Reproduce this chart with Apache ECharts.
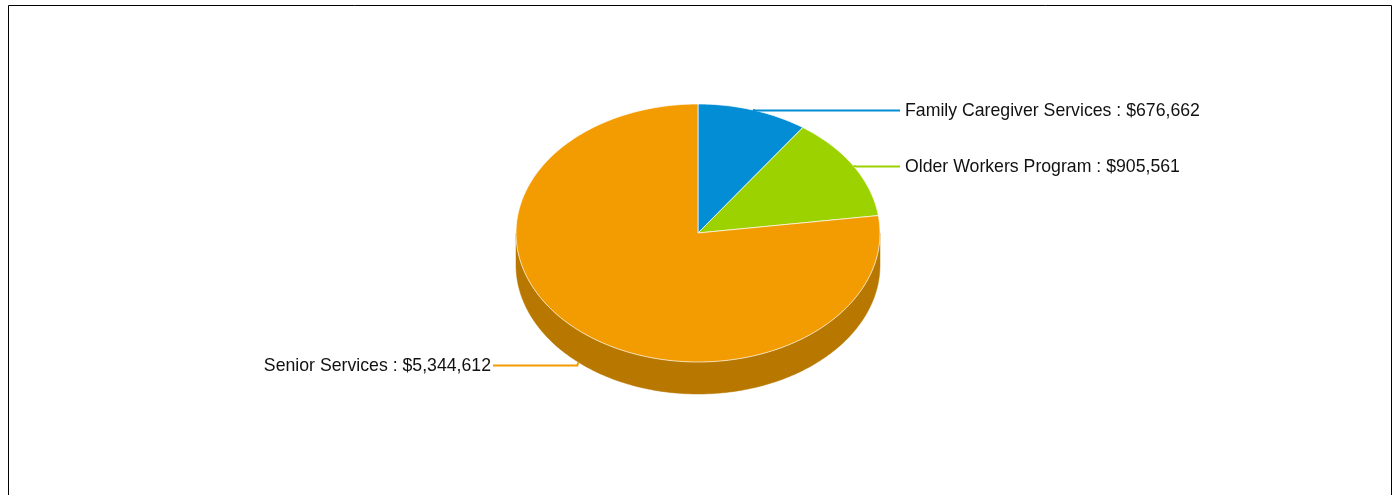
<!DOCTYPE html>
<html>
<head>
<meta charset="utf-8">
<title>Program budget</title>
<script src="https://cdn.jsdelivr.net/npm/echarts@6/dist/echarts.min.js"></script>
<style>
  html, body { margin: 0; padding: 0; background: #fff; }
  #chart { width: 1395px; height: 495px; }
</style>
</head>
<body>
<div id="chart"></div>
<script>
// data
const categories = ['Family Caregiver Services', 'Older Workers Program', 'Senior Services'];
const amounts = [676662, 905561, 5344612];
const topColors = ['#038DD4', '#9BD200', '#F39C02'];
const sideColors = ['#02649A', '#6E9600', '#B87800'];

// pie layout (a tilted "3d" pie drawn as an ellipse)
const cx = 698, cy = 233, rx = 182, ry = 129, depth = 32;
const labelGap = 5;

const total = amounts.reduce((a, b) => a + b, 0);
const starts = [];
let acc = 0;
amounts.forEach(v => { starts.push(acc / total); acc += v; });

const fmt = v => '$' + v.toLocaleString('en-US');

// angle in degrees, 0 = 12 o'clock, clockwise
function pt(deg, dy) {
  const r = deg * Math.PI / 180;
  return [cx + rx * Math.sin(r), cy - ry * Math.cos(r) + (dy || 0)];
}

function arc(a, b, dy) {
  const pts = [];
  const n = Math.max(2, Math.ceil(Math.abs(b - a)));
  for (let i = 0; i <= n; i++) pts.push(pt(a + (b - a) * i / n, dy));
  return pts;
}

function renderItem(params, api) {
  const i = params.dataIndex;
  const a = starts[i] * 360;
  const b = a + api.value(0) / total * 360;
  const children = [];

  // front side (visible between 90 and 270 degrees)
  const lo = Math.max(a, 90), hi = Math.min(b, 270);
  if (hi > lo) {
    const side = arc(lo, hi, 0).concat(arc(hi, lo, depth));
    children.push({
      type: 'polygon',
      shape: { points: side },
      style: { fill: sideColors[i], stroke: sideColors[i], lineWidth: 0.5 }
    });
  }

  // top face
  children.push({
    type: 'polygon',
    shape: { points: [[cx, cy]].concat(arc(a, b, 0)) },
    style: { fill: topColors[i], stroke: 'rgba(255,255,255,0.85)', lineWidth: 0.8 }
  });

  // label + leader line
  const mid = (a + b) / 2;
  const front = mid > 90 && mid < 270;
  const anchor = pt(mid, front ? depth : 0);
  const right = mid < 180;
  const ly = Math.round(anchor[1] + (front ? 3 : 0)) + 0.5;
  const lineEnd = right ? 900 : 493;
  children.push({
    type: 'polyline',
    shape: { points: [anchor, [anchor[0] + (right ? 3 : -1), ly], [lineEnd, ly]] },
    style: { stroke: topColors[i], lineWidth: 2, fill: null }
  });
  children.push({
    type: 'text',
    style: {
      text: api.value(1) + ' : ' + fmt(api.value(0)),
      x: right ? lineEnd + labelGap : lineEnd - 2,
      y: ly + 1,
      textAlign: right ? 'left' : 'right',
      textVerticalAlign: 'middle',
      font: '17.7px Arial, "Liberation Sans", sans-serif',
      fill: '#111'
    }
  });

  return { type: 'group', children: children };
}

const chart = echarts.init(document.getElementById('chart'));
chart.setOption({
  animation: false,
  graphic: [{
    type: 'rect',
    shape: { x: 8.5, y: 5.5, width: 1383, height: 520 },
    style: { fill: null, stroke: '#000', lineWidth: 1 },
    z: 0
  }],
  series: [{
    type: 'custom',
    coordinateSystem: 'none',
    renderItem: renderItem,
    dimensions: ['amount', 'name'],
    data: amounts.map((v, i) => [v, categories[i]])
  }]
});
</script>
</body>
</html>
